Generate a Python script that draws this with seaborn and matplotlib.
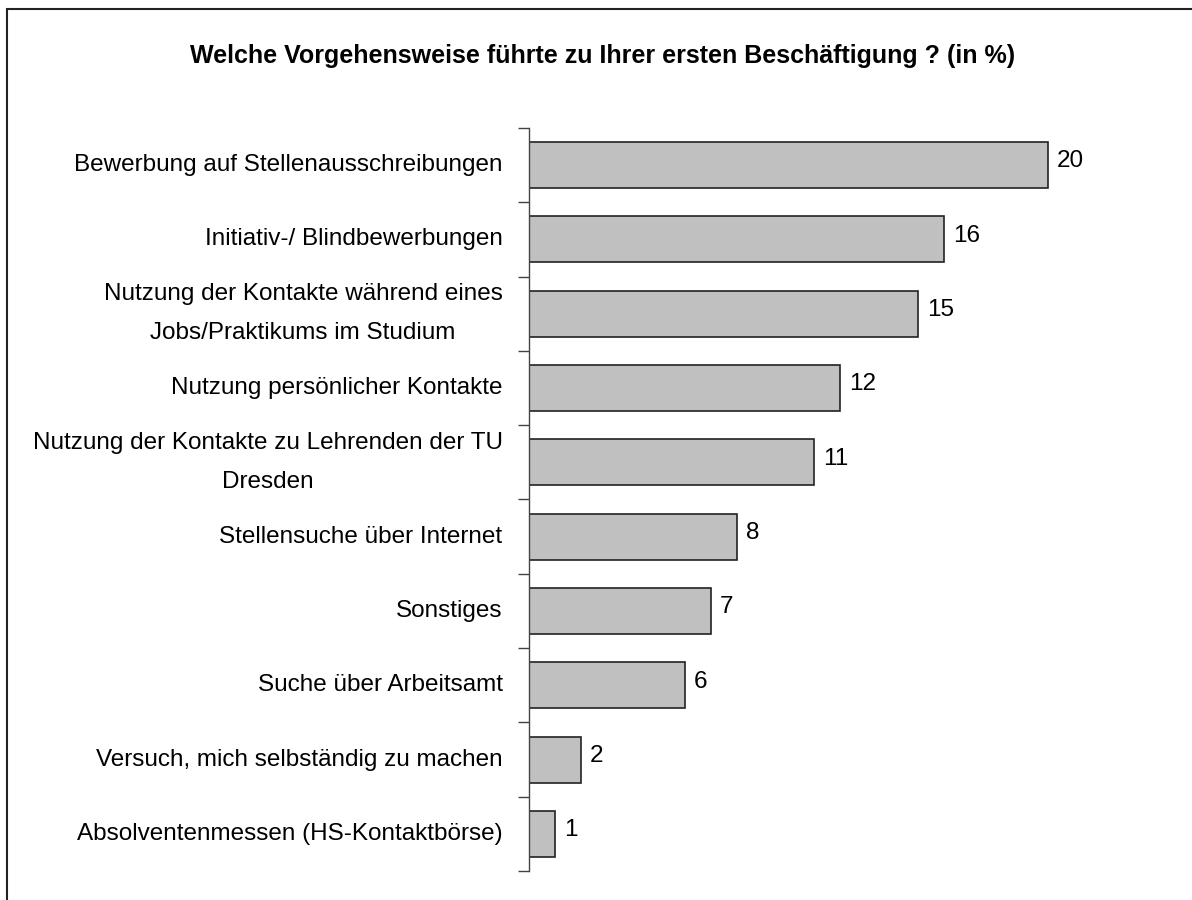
import numpy as np
import pandas as pd
import seaborn as sns
import matplotlib.pyplot as plt
from matplotlib.patches import Rectangle

kategorien = ["Bewerbung auf Stellenausschreibungen",
              "Initiativ-/ Blindbewerbungen",
              "Nutzung der Kontakte während eines\nJobs/Praktikums im Studium",
              "Nutzung persönlicher Kontakte",
              "Nutzung der Kontakte zu Lehrenden der TU\nDresden",
              "Stellensuche über Internet",
              "Sonstiges",
              "Suche über Arbeitsamt",
              "Versuch, mich selbständig zu machen",
              "Absolventenmessen (HS-Kontaktbörse)"]
prozent = [20, 16, 15, 12, 11, 8, 7, 6, 2, 1]
titel = "Welche Vorgehensweise führte zu Ihrer ersten Beschäftigung ? (in %)"

df = pd.DataFrame({"Kategorie": kategorien, "Prozent": prozent})

sns.set_style("white")
plt.rcParams['font.family'] = ['Liberation Sans', 'DejaVu Sans']
plt.rcParams['text.color'] = 'black'
plt.rcParams['ytick.labelcolor'] = 'black'

fig = plt.figure(figsize=(11.92, 9), dpi=100)
ax = fig.add_axes([529/1192, 1-871/900, 0.5225, 743/900])

sns.barplot(data=df, y="Kategorie", x="Prozent", orient="h", color="#C0C0C0",
            edgecolor="#222222", linewidth=1.2, width=0.62, saturation=1, ax=ax)

for i, v in enumerate(prozent):
    ax.text(v + 0.35, i - 0.05, str(v), va="center", ha="left", fontsize=17.5,
            color="black")

ax.set_xlim(0, 24)
ax.set_ylim(len(kategorien) - 0.5, -0.5)
ax.set_xlabel("")
ax.set_ylabel("")
ax.set_xticks([])
ax.set_yticks(range(len(kategorien)))
ax.set_yticklabels(kategorien, fontsize=17.5, multialignment="center",
                   linespacing=2.0, va="center", color="black")
ax.set_yticks(np.arange(-0.5, len(kategorien)), minor=True)
ax.tick_params(axis="y", which="major", length=0, pad=19)
ax.tick_params(axis="y", which="minor", length=8, width=1, color="#444444", left=True)
for s in ["top", "right", "bottom"]:
    ax.spines[s].set_visible(False)
ax.spines["left"].set_color("#444444")
ax.spines["left"].set_linewidth(1)

fig.text(603/1192, 1-56/900, titel, ha="center", va="center", fontsize=18,
         fontweight="bold", color="black")

# Rahmen um die Grafik
fig.patches.append(Rectangle((7.5/1192, -0.2), 1.2, 1.2 - 8.5/900,
                             transform=fig.transFigure, fill=False,
                             edgecolor="#222222", linewidth=1.5))

plt.savefig("out.png", dpi=100)
